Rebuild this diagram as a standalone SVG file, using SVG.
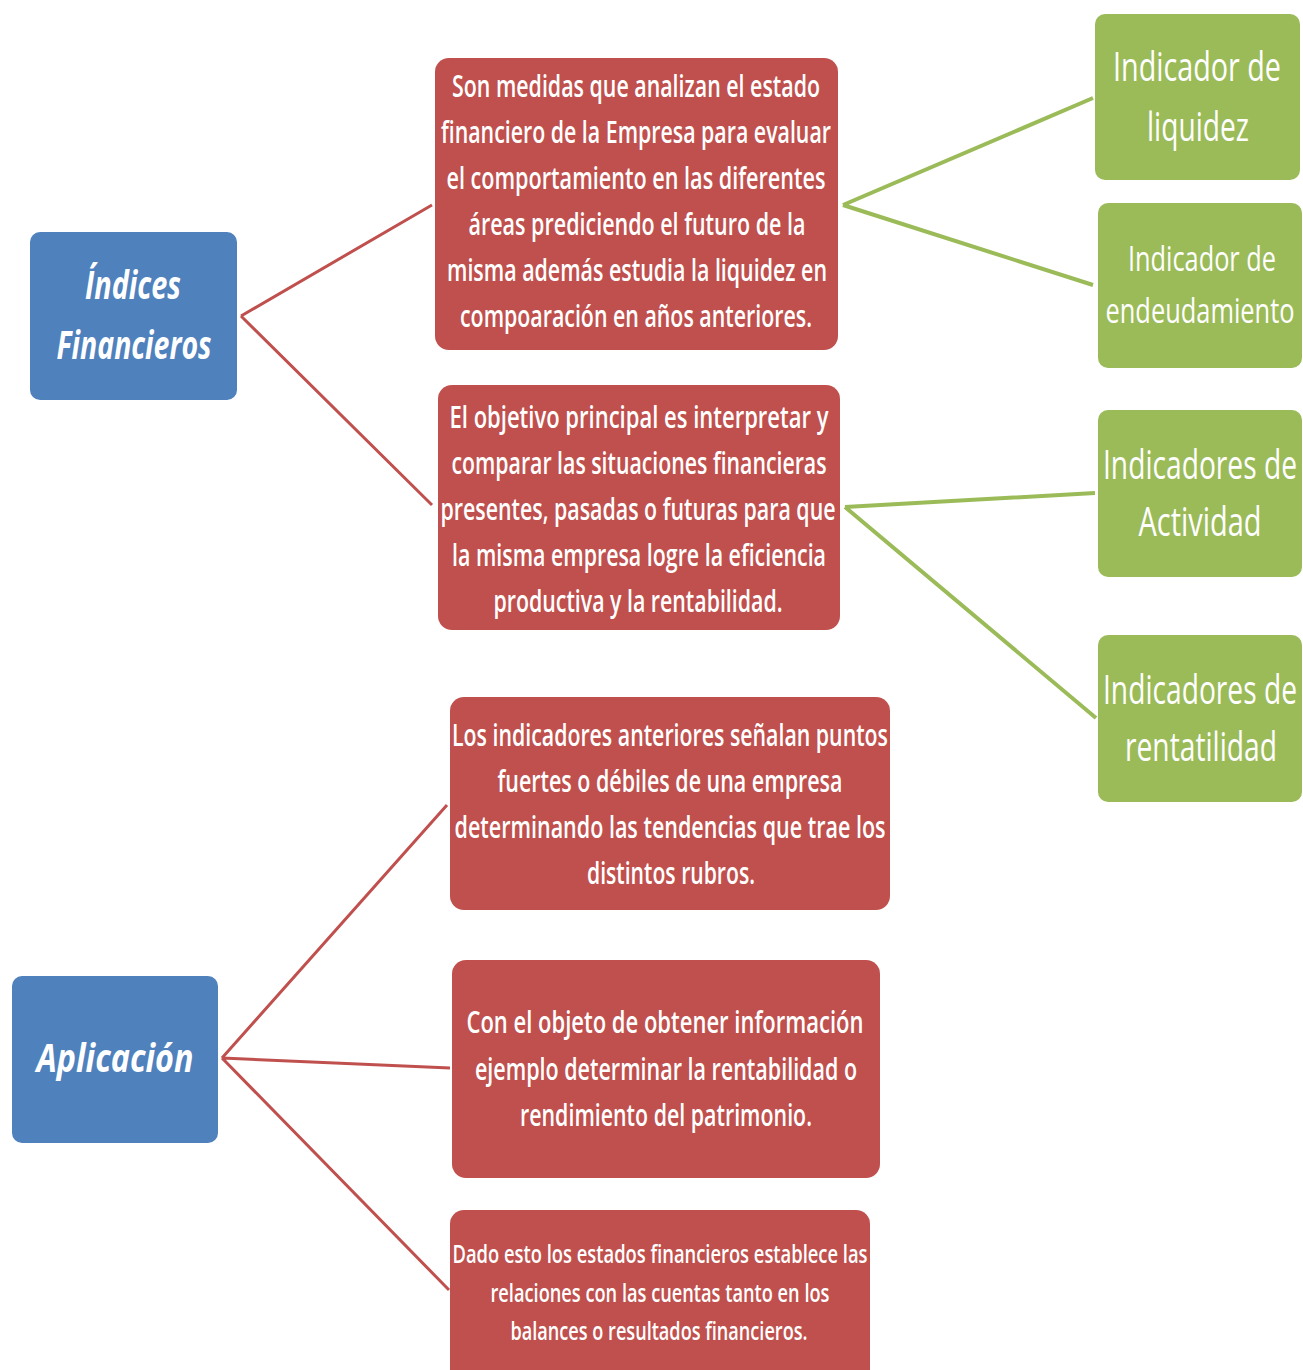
<svg xmlns="http://www.w3.org/2000/svg" width="1303" height="1370" viewBox="0 0 1303 1370">
<style>
.blue{fill:#4F81BD}
.red{fill:#C0504D}
.green{fill:#9BBB59}
text{font-family:"Open Sans","Noto Sans","Liberation Sans",sans-serif;fill:#ffffff;text-anchor:middle;font-weight:600}
.t{font-size:30px}
.s{font-size:25px}
.g{font-size:40px;font-weight:500}
.g2{font-size:35px;font-weight:500}
.b{font-size:40px;font-weight:bold;font-style:italic}
.cr{stroke:#C0504D;stroke-width:3;fill:none}
.cg{stroke:#9BBB59;stroke-width:4;fill:none}
</style>
<rect width="1303" height="1370" fill="#ffffff"/>
<g id="connectors">
<path class="cr" d="M241,316 L432,205 M241,316 L432,505"/>
<path class="cg" d="M843,205 L1093,98 M843,205 L1093,285"/>
<path class="cg" d="M845,507 L1095,493 M845,507 L1096,718"/>
<path class="cr" d="M222,1058 L447,805 M222,1058 L450,1068 M222,1058 L449,1290"/>
</g>
<g id="n-indices">
<rect class="blue" x="30" y="232" width="207" height="168" rx="10"/>
<text class="b" x="133" y="299" textLength="96" lengthAdjust="spacingAndGlyphs">Índices</text>
<text class="b" x="134" y="359" textLength="155" lengthAdjust="spacingAndGlyphs">Financieros</text>
</g>
<g id="n-def">
<rect class="red" x="435" y="58" width="403" height="292" rx="14"/>
<text class="t" x="636" y="97" textLength="368" lengthAdjust="spacingAndGlyphs">Son medidas que analizan el estado</text>
<text class="t" x="636" y="143" textLength="390" lengthAdjust="spacingAndGlyphs">financiero de la Empresa para evaluar</text>
<text class="t" x="636" y="189" textLength="379" lengthAdjust="spacingAndGlyphs">el comportamiento en las diferentes</text>
<text class="t" x="637" y="235" textLength="337" lengthAdjust="spacingAndGlyphs">áreas prediciendo el futuro de la</text>
<text class="t" x="637" y="281" textLength="380" lengthAdjust="spacingAndGlyphs">misma además estudia la liquidez en</text>
<text class="t" x="636" y="327" textLength="352" lengthAdjust="spacingAndGlyphs">compoaración en años anteriores.</text>
</g>
<g id="n-obj">
<rect class="red" x="438" y="385" width="402" height="245" rx="14"/>
<text class="t" x="639" y="428" textLength="379" lengthAdjust="spacingAndGlyphs">El objetivo principal es interpretar y</text>
<text class="t" x="639" y="474" textLength="375" lengthAdjust="spacingAndGlyphs">comparar las situaciones financieras</text>
<text class="t" x="638" y="520" textLength="395" lengthAdjust="spacingAndGlyphs">presentes, pasadas o futuras para que</text>
<text class="t" x="639" y="566" textLength="374" lengthAdjust="spacingAndGlyphs">la misma empresa logre la eficiencia</text>
<text class="t" x="638" y="612" textLength="289" lengthAdjust="spacingAndGlyphs">productiva y la rentabilidad.</text>
</g>
<g id="n-liquidez">
<rect class="green" x="1095" y="14" width="205" height="166" rx="10"/>
<text class="g" x="1197" y="81" textLength="168" lengthAdjust="spacingAndGlyphs">Indicador de</text>
<text class="g" x="1198" y="141" textLength="102" lengthAdjust="spacingAndGlyphs">liquidez</text>
</g>
<g id="n-endeud">
<rect class="green" x="1098" y="203" width="204" height="165" rx="10"/>
<text class="g2" x="1202" y="271" textLength="148" lengthAdjust="spacingAndGlyphs">Indicador de</text>
<text class="g2" x="1200" y="323" textLength="189" lengthAdjust="spacingAndGlyphs">endeudamiento</text>
</g>
<g id="n-actividad">
<rect class="green" x="1098" y="410" width="204" height="167" rx="10"/>
<text class="g" x="1200" y="479" textLength="194" lengthAdjust="spacingAndGlyphs">Indicadores de</text>
<text class="g" x="1200" y="536" textLength="123" lengthAdjust="spacingAndGlyphs">Actividad</text>
</g>
<g id="n-rentab">
<rect class="green" x="1098" y="635" width="204" height="167" rx="10"/>
<text class="g" x="1200" y="704" textLength="194" lengthAdjust="spacingAndGlyphs">Indicadores de</text>
<text class="g" x="1201" y="761" textLength="152" lengthAdjust="spacingAndGlyphs">rentatilidad</text>
</g>
<g id="n-aplicacion">
<rect class="blue" x="12" y="976" width="206" height="167" rx="10"/>
<text class="b" x="115" y="1072" textLength="157" lengthAdjust="spacingAndGlyphs">Aplicación</text>
</g>
<g id="n-puntos">
<rect class="red" x="450" y="697" width="440" height="213" rx="14"/>
<text class="t" x="670" y="746" textLength="436" lengthAdjust="spacingAndGlyphs">Los indicadores anteriores señalan puntos</text>
<text class="t" x="670" y="792" textLength="345" lengthAdjust="spacingAndGlyphs">fuertes o débiles de una empresa</text>
<text class="t" x="670" y="838" textLength="431" lengthAdjust="spacingAndGlyphs">determinando las tendencias que trae los</text>
<text class="t" x="671" y="884" textLength="168" lengthAdjust="spacingAndGlyphs">distintos rubros.</text>
</g>
<g id="n-objeto">
<rect class="red" x="452" y="960" width="428" height="218" rx="14"/>
<text class="t" x="665" y="1033" textLength="397" lengthAdjust="spacingAndGlyphs">Con el objeto de obtener información</text>
<text class="t" x="666" y="1080" textLength="382" lengthAdjust="spacingAndGlyphs">ejemplo determinar la rentabilidad o</text>
<text class="t" x="666" y="1126" textLength="292" lengthAdjust="spacingAndGlyphs">rendimiento del patrimonio.</text>
</g>
<g id="n-dado">
<rect class="red" x="450" y="1210" width="420" height="175" rx="14"/>
<text class="s" x="660" y="1263" textLength="415" lengthAdjust="spacingAndGlyphs">Dado esto los estados financieros establece las</text>
<text class="s" x="660" y="1302" textLength="339" lengthAdjust="spacingAndGlyphs">relaciones con las cuentas tanto en los</text>
<text class="s" x="659" y="1340" textLength="297" lengthAdjust="spacingAndGlyphs">balances o resultados financieros.</text>
</g>
</svg>
